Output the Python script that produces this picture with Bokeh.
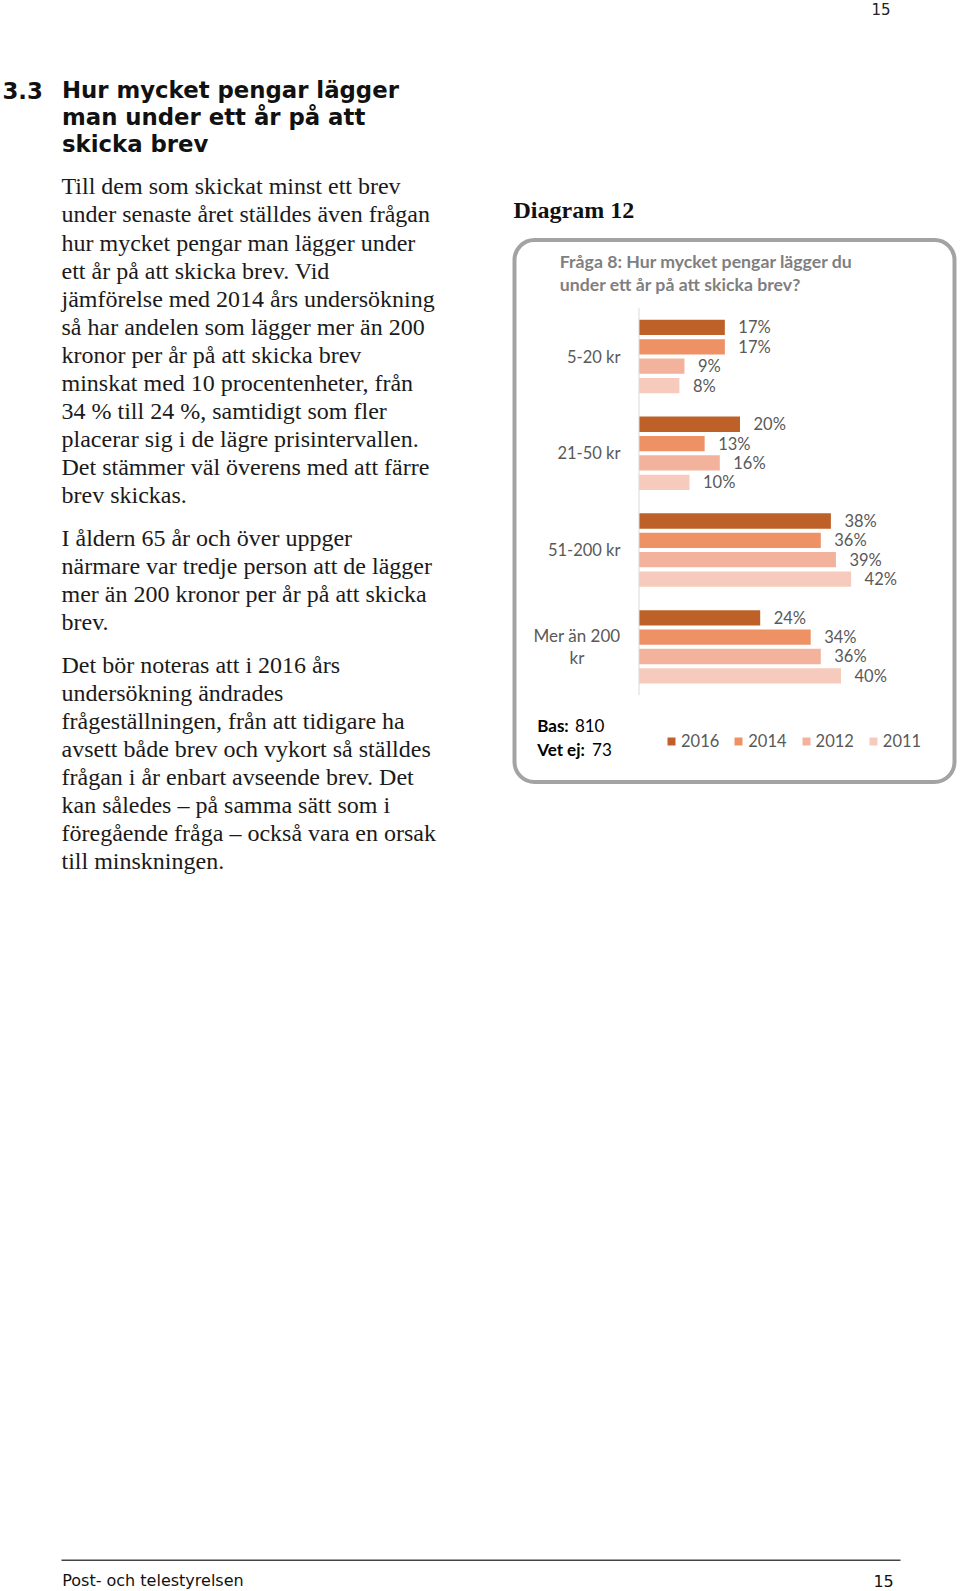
from bokeh.plotting import figure
from bokeh.models import Range1d, Legend, LegendItem
from bokeh.core.properties import value
from bokeh.embed import file_html
from bokeh.resources import INLINE

# ---------------- data ----------------
categories = ["5-20 kr", "21-50 kr", "51-200 kr", "Mer än 200\nkr"]
years = ["2016", "2014", "2012", "2011"]
v2016 = [17, 20, 38, 24]
v2014 = [17, 13, 36, 34]
v2012 = [9, 16, 39, 36]
v2011 = [8, 10, 42, 40]
series = [v2016, v2014, v2012, v2011]
colors = ["#BE6128", "#EE9165", "#F3B29B", "#F6CBBD"]

chart_title = ["Fråga 8: Hur mycket pengar lägger du", "under ett år på att skicka brev?"]
heading_num = "3.3"
heading = ["Hur mycket pengar lägger", "man under ett år på att", "skicka brev"]
para1 = ["Till dem som skickat minst ett brev",
         "under senaste året ställdes även frågan",
         "hur mycket pengar man lägger under",
         "ett år på att skicka brev. Vid",
         "jämförelse med 2014 års undersökning",
         "så har andelen som lägger mer än 200",
         "kronor per år på att skicka brev",
         "minskat med 10 procentenheter, från",
         "34 % till 24 %, samtidigt som fler",
         "placerar sig i de lägre prisintervallen.",
         "Det stämmer väl överens med att färre",
         "brev skickas."]
para2 = ["I åldern 65 år och över uppger",
         "närmare var tredje person att de lägger",
         "mer än 200 kronor per år på att skicka",
         "brev."]
para3 = ["Det bör noteras att i 2016 års",
         "undersökning ändrades",
         "frågeställningen, från att tidigare ha",
         "avsett både brev och vykort så ställdes",
         "frågan i år enbart avseende brev. Det",
         "kan således – på samma sätt som i",
         "föregående fråga – också vara en orsak",
         "till minskningen."]

# ---------------- page figure (page-pixel coordinates) ----------------
W, H = 960, 1591
p = figure(width=W, height=H, x_range=Range1d(0, W), y_range=Range1d(H, 0),
           output_backend="svg", toolbar_location=None, min_border=0,
           x_axis_location=None, y_axis_location=None, background_fill_color="white")
p.grid.visible = False
p.outline_line_color = None

# chart scales mapped onto the page
X0, PX_PCT = 638.5, 5.05
G0, PX_GRP = 356.0, 96.77
p.extra_x_ranges = {"pct": Range1d(start=(0 - X0) / PX_PCT, end=(W - X0) / PX_PCT)}
p.extra_y_ranges = {"grp": Range1d(start=(H - G0) / PX_GRP, end=(0 - G0) / PX_GRP)}

SERIF = value("Liberation Serif")
CAL = value("Lato")
SANS = value("DejaVu Sans")

# page header number
p.text(x=[890], y=[8], text=["15"], text_align="right", text_baseline="middle",
       text_font=SANS, text_font_size="15px", text_color="#222222")

# heading
p.text(x=[2], y=[89.8], text=[heading_num], text_font=SANS, text_font_style="bold",
       text_font_size="22.8px", text_baseline="middle", text_color="#111111")
p.text(x=[61.5] * len(heading), y=[89.8 + 26.9 * k for k in range(len(heading))], text=heading,
       text_font=SANS, text_font_style="bold", text_font_size="22.8px",
       text_baseline="middle", text_color="#111111")

# body paragraphs
for start, lines in [(185.8, para1), (537.5, para2), (664.2, para3)]:
    p.text(x=[61] * len(lines), y=[start + 28.1 * k for k in range(len(lines))], text=lines,
           text_font=SERIF, text_font_size="24px", text_baseline="middle", text_color="#1a1a1a")

# diagram label
p.text(x=[513], y=[209.5], text=["Diagram 12"], text_font=SERIF, text_font_style="bold",
       text_font_size="24px", text_baseline="middle", text_color="#111111")

# rounded box
p.quad(left=[514], right=[954], top=[239.5], bottom=[781.5], border_radius=20,
       fill_color=None, line_color="#A3A3A3", line_width=4)

# chart title
p.text(x=[559.3] * 2, y=[261.2, 283.8], text=chart_title, text_font=CAL, text_font_style="bold",
       text_font_size="17.7px", text_baseline="middle", text_color="#7F7F7F")

# bars
n = len(categories)
idx = list(range(n))
renderers = []
for j, (yr, vals, col) in enumerate(zip(years, series, colors)):
    ys = [i + (j - 1.5) * 0.2 for i in idx]
    r = p.hbar(y=ys, left=0, right=vals, height=0.158, fill_color=col, line_color=None,
               x_range_name="pct", y_range_name="grp")
    renderers.append(r)
    p.text(x=vals, y=ys, text=[f"{v}%" for v in vals], x_offset=13.5, text_align="left",
           text_baseline="middle", text_font=CAL, text_font_size="16.5px", text_color="#595959",
           x_range_name="pct", y_range_name="grp")

# vertical axis line
p.segment(x0=[0], y0=[-0.5], x1=[0], y1=[n - 0.5], line_color="#D9D9D9", line_width=1,
          x_range_name="pct", y_range_name="grp")

# category labels
single = [i for i, c in enumerate(categories) if "\n" not in c]
multi = [i for i, c in enumerate(categories) if "\n" in c]
p.text(x=[0] * len(single), y=single, text=[categories[i] for i in single], x_offset=-18.5,
       text_align="right", text_baseline="middle", text_font=CAL, text_font_size="16.5px",
       text_color="#595959", x_range_name="pct", y_range_name="grp")
p.text(x=[0] * len(multi), y=multi, text=[categories[i] for i in multi], x_offset=-62,
       text_align="center", text_baseline="middle", text_font=CAL, text_font_size="17px",
       text_line_height=1.06, text_color="#595959", x_range_name="pct", y_range_name="grp")

# base notes
p.text(x=[536.7, 536.7], y=[725, 748.5], text=["Bas:", "Vet ej:"], text_font=CAL,
       text_font_style="bold", text_font_size="17px", text_baseline="middle", text_color="#000000")
p.text(x=[574.4, 591.6], y=[725, 748.5], text=["810", "73"], text_font=CAL,
       text_font_size="17px", text_baseline="middle", text_color="#000000")

# legend
legend = Legend(items=[LegendItem(label=yr, renderers=[r]) for yr, r in zip(years, renderers)],
                orientation="horizontal", location=(666, H - 751),
                glyph_width=10, glyph_height=10, label_standoff=5, spacing=14,
                padding=0, margin=0, border_line_color=None, background_fill_alpha=0,
                label_text_font="Lato", label_text_font_size="16.5px", label_text_color="#595959",
                label_height=12)
p.add_layout(legend)

# footer
p.segment(x0=[61], y0=[1559.7], x1=[900], y1=[1559.7], line_color="#444444", line_width=1.5)
p.text(x=[61.7], y=[1580.3], text=["Post- och telestyrelsen"], text_font=SANS,
       text_font_size="16px", text_baseline="middle", text_color="#111111")
p.text(x=[893.3], y=[1580.5], text=["15"], text_align="right", text_font=SANS,
       text_font_size="16px", text_baseline="middle", text_color="#111111")

open("out.html", "w").write(file_html(p, INLINE))
